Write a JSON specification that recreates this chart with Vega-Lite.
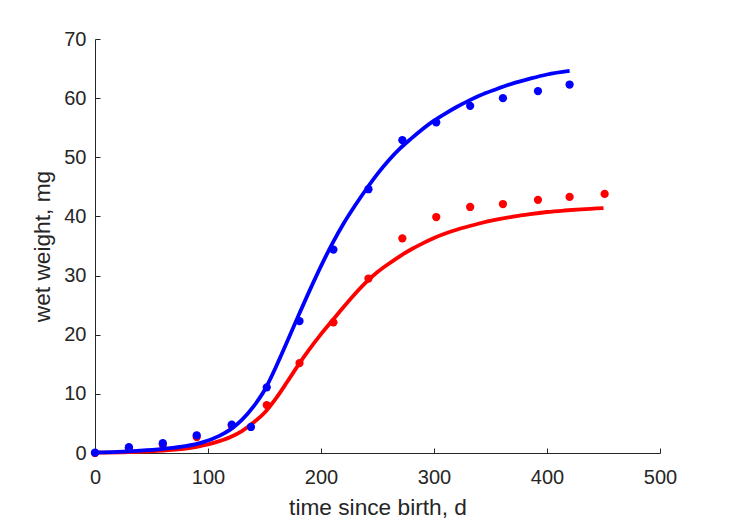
{
  "$schema": "https://vega.github.io/schema/vega-lite/v6.json",
  "width": 565,
  "height": 414,
  "autosize": {"type": "none"},
  "padding": {"left": 95, "top": 39, "right": 69, "bottom": 68},
  "background": "white",
  "config": {
    "view": {"stroke": null},
    "font": "Liberation Sans",
    "axis": {
      "grid": false,
      "domainColor": "#262626",
      "tickColor": "#262626",
      "labelColor": "#262626",
      "titleColor": "#262626",
      "labelFont": "Liberation Sans",
      "titleFont": "Liberation Sans",
      "labelFontSize": 20,
      "titleFontSize": 22.7,
      "titleFontWeight": "normal",
      "labelFlush": false,
      "tickSize": -5,
      "domainWidth": 1,
      "tickWidth": 1
    }
  },
  "datasets": {
    "points": [
      {"series": "red", "t": 0, "w": 0.0},
      {"series": "red", "t": 30, "w": 0.8},
      {"series": "red", "t": 60, "w": 1.4},
      {"series": "red", "t": 90, "w": 2.7},
      {"series": "red", "t": 121, "w": 4.6},
      {"series": "red", "t": 152, "w": 8.1},
      {"series": "red", "t": 181, "w": 15.2},
      {"series": "red", "t": 211, "w": 22.1},
      {"series": "red", "t": 242, "w": 29.5},
      {"series": "red", "t": 272, "w": 36.3},
      {"series": "red", "t": 302, "w": 39.9},
      {"series": "red", "t": 332, "w": 41.6},
      {"series": "red", "t": 361, "w": 42.1},
      {"series": "red", "t": 392, "w": 42.8},
      {"series": "red", "t": 420, "w": 43.3},
      {"series": "red", "t": 451, "w": 43.8},
      {"series": "blue", "t": 0, "w": 0.05},
      {"series": "blue", "t": 30, "w": 0.98},
      {"series": "blue", "t": 60, "w": 1.65},
      {"series": "blue", "t": 90, "w": 3.0},
      {"series": "blue", "t": 121, "w": 4.8},
      {"series": "blue", "t": 138, "w": 4.4},
      {"series": "blue", "t": 152, "w": 11.1},
      {"series": "blue", "t": 181, "w": 22.3},
      {"series": "blue", "t": 211, "w": 34.4},
      {"series": "blue", "t": 242, "w": 44.6},
      {"series": "blue", "t": 272, "w": 52.9},
      {"series": "blue", "t": 302, "w": 55.9},
      {"series": "blue", "t": 332, "w": 58.7},
      {"series": "blue", "t": 361, "w": 60.0},
      {"series": "blue", "t": 392, "w": 61.2},
      {"series": "blue", "t": 420, "w": 62.3}
    ],
    "curves": [
      {"series": "red", "t": 0, "w": 0.05},
      {"series": "red", "t": 30, "w": 0.15},
      {"series": "red", "t": 60, "w": 0.4},
      {"series": "red", "t": 90, "w": 1.05},
      {"series": "red", "t": 110, "w": 2.0},
      {"series": "red", "t": 120, "w": 2.7},
      {"series": "red", "t": 130, "w": 3.7},
      {"series": "red", "t": 140, "w": 5.1},
      {"series": "red", "t": 150, "w": 6.8},
      {"series": "red", "t": 160, "w": 9.2},
      {"series": "red", "t": 170, "w": 12.0},
      {"series": "red", "t": 180, "w": 14.9},
      {"series": "red", "t": 190, "w": 17.6},
      {"series": "red", "t": 200, "w": 20.1},
      {"series": "red", "t": 210, "w": 22.4},
      {"series": "red", "t": 220, "w": 24.7},
      {"series": "red", "t": 230, "w": 26.9},
      {"series": "red", "t": 240, "w": 28.9},
      {"series": "red", "t": 250, "w": 30.6},
      {"series": "red", "t": 260, "w": 32.0},
      {"series": "red", "t": 270, "w": 33.3},
      {"series": "red", "t": 280, "w": 34.45},
      {"series": "red", "t": 290, "w": 35.45},
      {"series": "red", "t": 300, "w": 36.35},
      {"series": "red", "t": 310, "w": 37.1},
      {"series": "red", "t": 320, "w": 37.75},
      {"series": "red", "t": 330, "w": 38.3},
      {"series": "red", "t": 340, "w": 38.8},
      {"series": "red", "t": 355, "w": 39.45},
      {"series": "red", "t": 370, "w": 39.98},
      {"series": "red", "t": 385, "w": 40.4},
      {"series": "red", "t": 400, "w": 40.75},
      {"series": "red", "t": 415, "w": 41.0},
      {"series": "red", "t": 430, "w": 41.2},
      {"series": "red", "t": 450, "w": 41.4},
      {"series": "blue", "t": 0, "w": 0.1},
      {"series": "blue", "t": 20, "w": 0.2},
      {"series": "blue", "t": 40, "w": 0.4},
      {"series": "blue", "t": 60, "w": 0.7},
      {"series": "blue", "t": 80, "w": 1.15},
      {"series": "blue", "t": 95, "w": 1.8},
      {"series": "blue", "t": 110, "w": 2.9},
      {"series": "blue", "t": 120, "w": 4.0},
      {"series": "blue", "t": 130, "w": 5.6},
      {"series": "blue", "t": 140, "w": 7.8},
      {"series": "blue", "t": 150, "w": 10.6},
      {"series": "blue", "t": 160, "w": 14.5},
      {"series": "blue", "t": 170, "w": 18.8},
      {"series": "blue", "t": 180, "w": 23.2},
      {"series": "blue", "t": 190, "w": 27.5},
      {"series": "blue", "t": 200, "w": 31.6},
      {"series": "blue", "t": 210, "w": 35.4},
      {"series": "blue", "t": 220, "w": 38.8},
      {"series": "blue", "t": 230, "w": 41.8},
      {"series": "blue", "t": 240, "w": 44.6},
      {"series": "blue", "t": 250, "w": 47.2},
      {"series": "blue", "t": 260, "w": 49.5},
      {"series": "blue", "t": 270, "w": 51.5},
      {"series": "blue", "t": 280, "w": 53.2},
      {"series": "blue", "t": 290, "w": 54.8},
      {"series": "blue", "t": 300, "w": 56.2},
      {"series": "blue", "t": 310, "w": 57.4},
      {"series": "blue", "t": 320, "w": 58.5},
      {"series": "blue", "t": 330, "w": 59.5},
      {"series": "blue", "t": 340, "w": 60.4},
      {"series": "blue", "t": 355, "w": 61.5},
      {"series": "blue", "t": 370, "w": 62.5},
      {"series": "blue", "t": 385, "w": 63.3},
      {"series": "blue", "t": 400, "w": 64.0},
      {"series": "blue", "t": 420, "w": 64.6}
    ]
  },
  "encoding": {
    "x": {
      "field": "t",
      "type": "quantitative",
      "scale": {"domain": [0, 500], "nice": false, "zero": false},
      "axis": {"values": [0, 100, 200, 300, 400, 500], "title": "time since birth, d", "labelPadding": 19, "titlePadding": 9}
    },
    "y": {
      "field": "w",
      "type": "quantitative",
      "scale": {"domain": [0, 70], "nice": false},
      "axis": {"values": [0, 10, 20, 30, 40, 50, 60, 70], "title": "wet weight, mg", "labelPadding": 14, "titlePadding": 9}
    },
    "color": {
      "field": "series",
      "type": "nominal",
      "scale": {"domain": ["red", "blue"], "range": ["#FF0000", "#0000FF"]},
      "legend": null
    }
  },
  "layer": [
    {"data": {"name": "curves"}, "transform": [{"filter": "datum.series == 'red'"}], "mark": {"type": "line", "strokeWidth": 3.8, "interpolate": "monotone"}},
    {"data": {"name": "points"}, "transform": [{"filter": "datum.series == 'red'"}], "mark": {"type": "circle", "size": 68, "opacity": 1}},
    {"data": {"name": "curves"}, "transform": [{"filter": "datum.series == 'blue'"}], "mark": {"type": "line", "strokeWidth": 3.8, "interpolate": "monotone"}},
    {"data": {"name": "points"}, "transform": [{"filter": "datum.series == 'blue'"}], "mark": {"type": "circle", "size": 68, "opacity": 1}}
  ]
}
